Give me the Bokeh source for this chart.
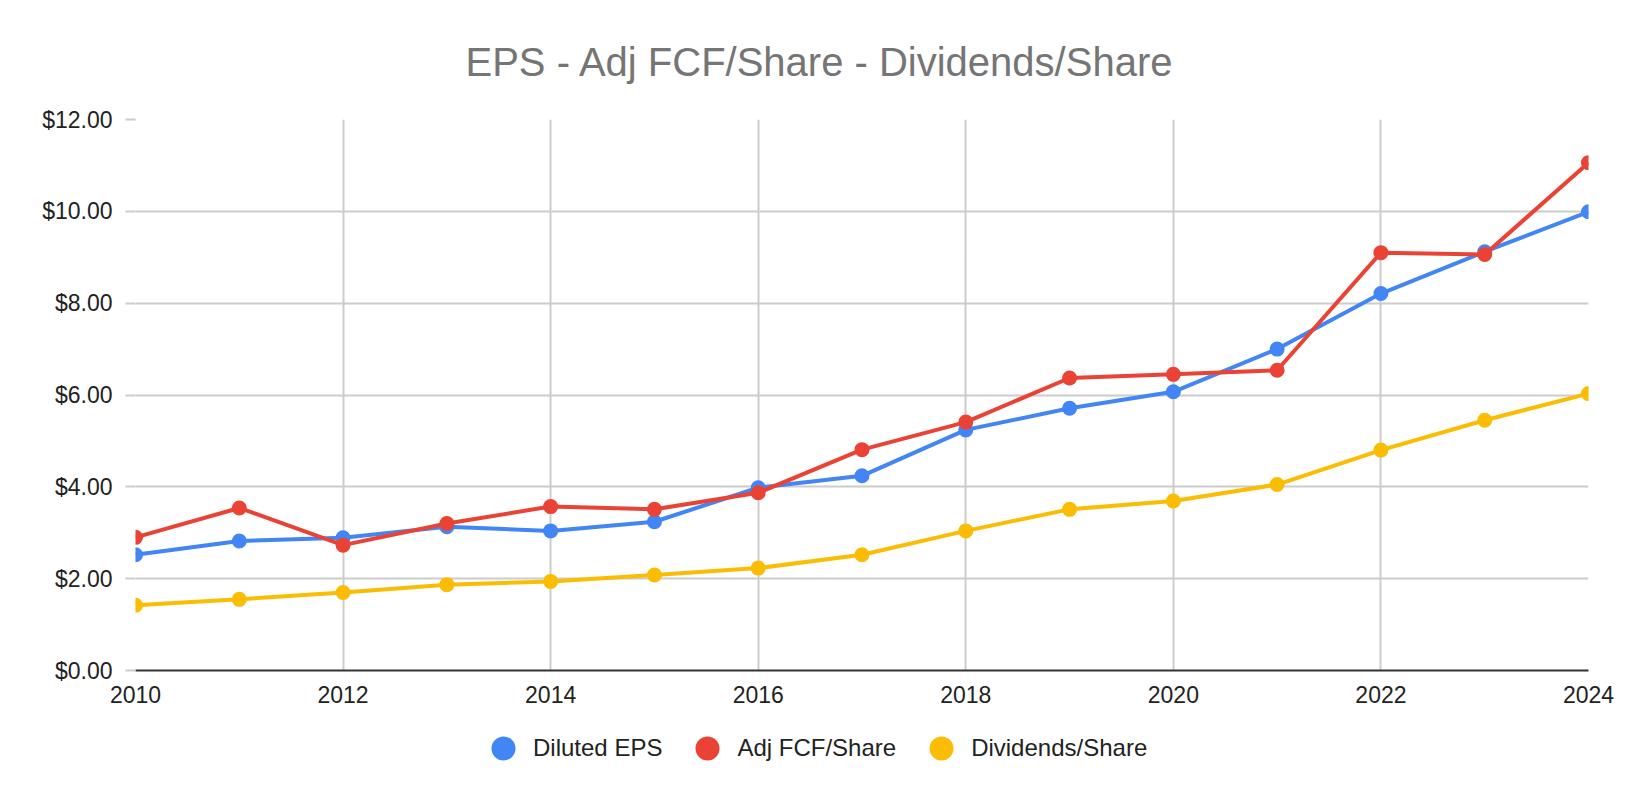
from bokeh.plotting import figure
from bokeh.layouts import column
from bokeh.models import FixedTicker, NumeralTickFormatter, Legend, LegendItem
from bokeh.embed import file_html
from bokeh.resources import INLINE

years = list(range(2010, 2025))
diluted_eps = [2.52, 2.82, 2.89, 3.13, 3.04, 3.24, 3.98, 4.24, 5.24, 5.71, 6.07, 7.00, 8.21, 9.12, 9.99]
adj_fcf = [2.90, 3.54, 2.73, 3.20, 3.57, 3.51, 3.87, 4.81, 5.41, 6.37, 6.45, 6.54, 9.10, 9.06, 11.06]
dividends = [1.42, 1.55, 1.70, 1.87, 1.94, 2.08, 2.23, 2.52, 3.04, 3.51, 3.69, 4.05, 4.80, 5.45, 6.03]

series_names = ["Diluted EPS", "Adj FCF/Share", "Dividends/Share"]
series_colors = ["#4285F4", "#EA4335", "#FBBC04"]
x_ticks = [2010, 2012, 2014, 2016, 2018, 2020, 2022, 2024]
y_ticks = [0, 2, 4, 6, 8, 10, 12]

FONT = "Liberation Sans"
all_series = [diluted_eps, adj_fcf, dividends]

p = figure(width=1620, height=706, x_range=(2010, 2024), y_range=(0, 12),
           output_backend="svg", toolbar_location=None,
           title="EPS - Adj FCF/Share - Dividends/Share",
           min_border_left=135, min_border_right=32,
           min_border_top=119, min_border_bottom=36)
p.outline_line_color = None

# title is centred on the whole image, not on the plot frame
p.title.align = "left"
p.title.offset = 330
p.title.text_font = FONT
p.title.text_font_size = "40px"
p.title.text_font_style = "normal"
p.title.text_color = "#757575"
p.title.standoff = 71

# grid
p.xgrid.ticker = FixedTicker(ticks=x_ticks)
p.ygrid.ticker = FixedTicker(ticks=y_ticks)
for g in (p.xgrid, p.ygrid):
    g.grid_line_color = "#cccccc"
    g.grid_line_width = 2

# x axis
p.xaxis.ticker = FixedTicker(ticks=x_ticks)
p.xaxis.axis_line_color = "#333333"
p.xaxis.axis_line_width = 2
p.xaxis.major_tick_line_color = None
p.xaxis.minor_tick_line_color = None
p.xaxis.major_label_standoff = 9

# y axis
p.yaxis.ticker = FixedTicker(ticks=y_ticks)
p.yaxis.formatter = NumeralTickFormatter(format="$0.00")
p.yaxis.axis_line_color = None
p.yaxis.major_tick_line_color = "#cccccc"
p.yaxis.major_tick_line_width = 2
p.yaxis.major_tick_in = 0
p.yaxis.major_tick_out = 10
p.yaxis.minor_tick_line_color = None
p.yaxis.major_label_standoff = 13

for ax in (p.xaxis, p.yaxis):
    ax.major_label_text_font = FONT
    ax.major_label_text_font_size = "23px"
    ax.major_label_text_color = "#222222"

for vals, col in zip(all_series, series_colors):
    p.line(years, vals, line_color=col, line_width=4)
    p.scatter(years, vals, size=15, fill_color=col, line_color=None)

# legend strip under the chart; its key markers sit outside its (0, 1) view
lf = figure(width=1620, height=84, x_range=(0, 1), y_range=(0, 1),
            output_backend="svg", toolbar_location=None,
            x_axis_type=None, y_axis_type=None, min_border=0)
lf.outline_line_color = None
items = []
for name, vals, col in zip(series_names, all_series, series_colors):
    r = lf.scatter(x=years[:1], y=vals[:1], size=15, fill_color=col, line_color=None)
    items.append(LegendItem(label=name, renderers=[r]))

legend = Legend(items=items, orientation="horizontal", location=(338, 12),
                glyph_width=60, glyph_height=60, label_standoff=-2, spacing=15,
                padding=0, margin=0, border_line_color=None, background_fill_alpha=0,
                label_text_font=FONT, label_text_font_size="24px",
                label_text_color="#222222")
lf.add_layout(legend, "center")

open("out.html", "w").write(file_html(column(p, lf), INLINE))
